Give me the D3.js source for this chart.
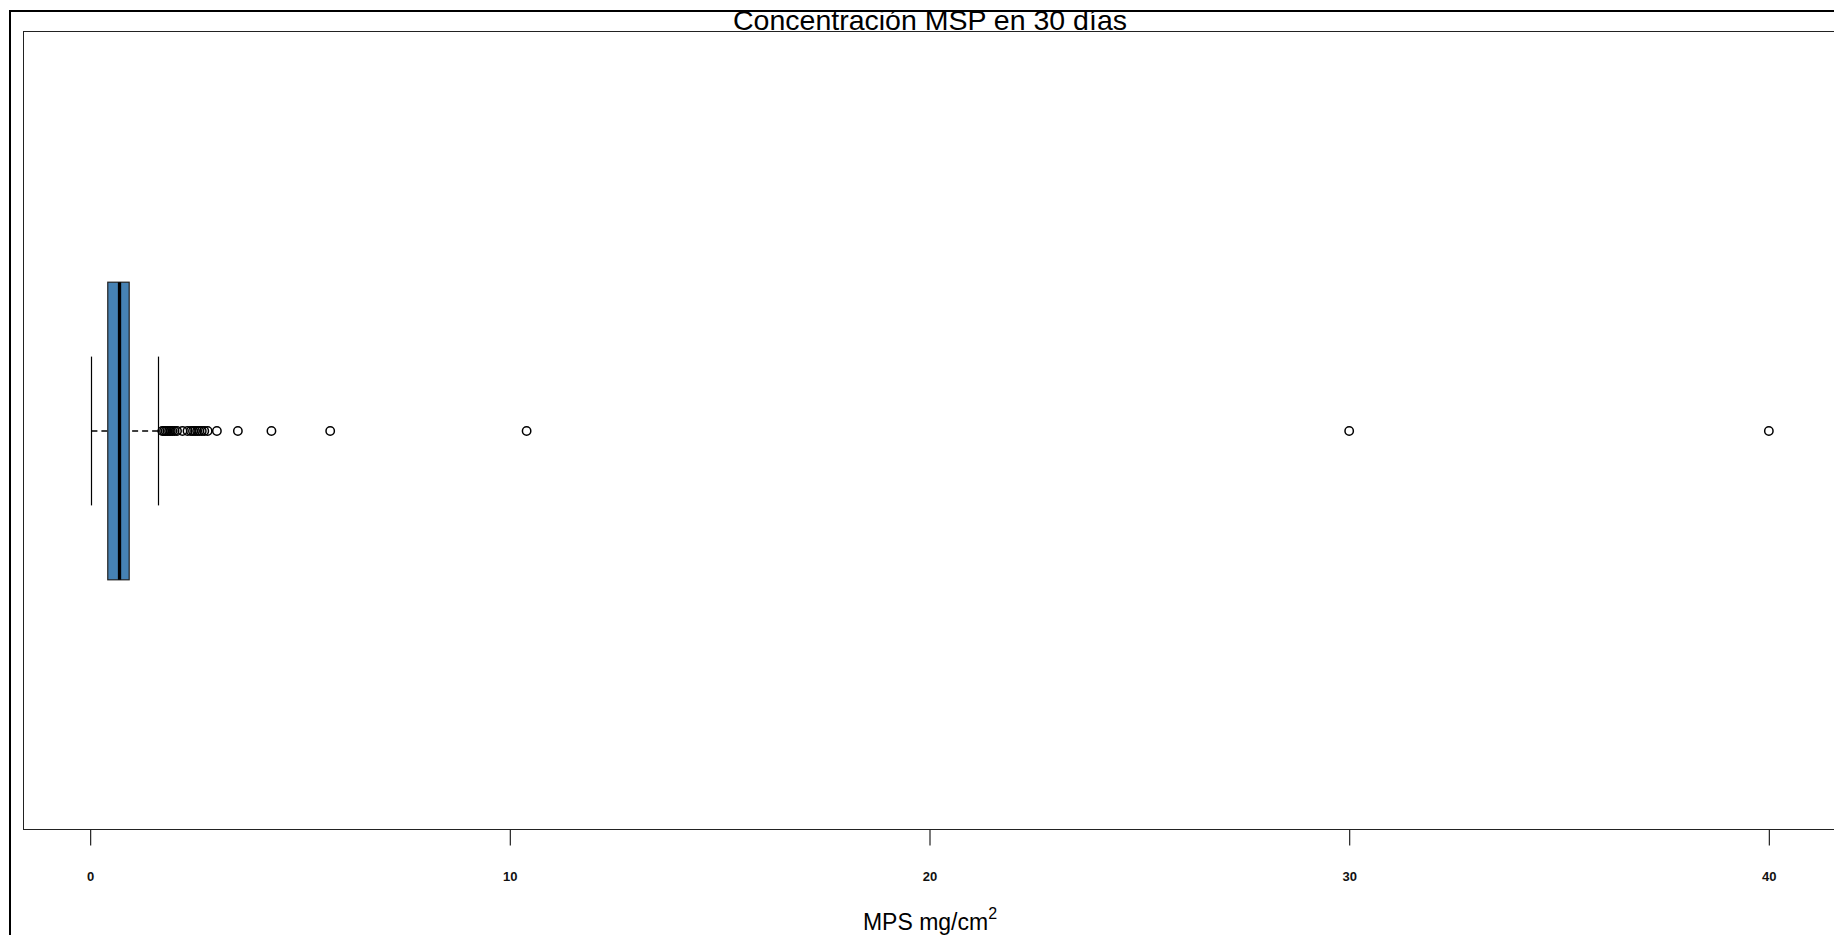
<!DOCTYPE html>
<html>
<head>
<meta charset="utf-8">
<script src="https://cdn.jsdelivr.net/npm/d3@7"></script>
<style>
  html, body { margin: 0; padding: 0; background: #fff; overflow: hidden; }
  svg { display: block; font-family: "Liberation Sans", Arial, sans-serif; }
</style>
</head>
<body>
<svg id="chart" width="1834" height="935"></svg>
<script>
// boxplot of MSP concentration, horizontal
const categories = ['MSP 30 días'];
const boxStats = [{ min: 0.03, q1: 0.42, median: 0.70, q3: 0.93, max: 1.62 }];
const outliers = [
  1.72, 1.76, 1.80, 1.84, 1.88, 1.92, 1.96, 2.01, 2.07,
  2.20, 2.32,
  2.40, 2.45, 2.50, 2.55, 2.60, 2.66, 2.72, 2.80,
  3.02, 3.52, 4.32, 5.72, 10.4, 30.0, 40.0
];
const xTicks = [0, 10, 20, 30, 40];
const title = 'Concentración MSP en 30 días';

const svg = d3.select('#chart');
const margin = { top: 31, left: 23, bottom: 829 };

const x = d3.scaleLinear()
  .domain([-1.6, 41.6])
  .range([margin.left, 1836]);

const y = d3.scaleBand()
  .domain(categories)
  .range([margin.top, margin.bottom + 2]);

// outer frame
svg.append('rect')
  .attr('x', 10).attr('y', 11)
  .attr('width', 1900).attr('height', 1000)
  .attr('fill', 'none')
  .attr('stroke', '#000')
  .attr('stroke-width', 2);

// plot box
svg.append('rect')
  .attr('x', margin.left + 0.5).attr('y', margin.top + 0.5)
  .attr('width', x.range()[1] - margin.left)
  .attr('height', margin.bottom - margin.top)
  .attr('fill', 'none')
  .attr('stroke', '#222')
  .attr('stroke-width', 1);

const g = svg.append('g');

boxStats.forEach((d, i) => {
  const cy = y(categories[i]) + y.bandwidth() / 2;
  const boxH = y.bandwidth() * 0.372;
  const capH = boxH / 2;

  // whiskers
  g.append('line')
    .attr('x1', x(d.min)).attr('x2', x(d.q1))
    .attr('y1', cy).attr('y2', cy)
    .attr('stroke', '#000').attr('stroke-width', 1.3).attr('stroke-dasharray', '6,4');
  g.append('line')
    .attr('x1', x(d.max)).attr('x2', x(d.q3))
    .attr('y1', cy).attr('y2', cy)
    .attr('stroke', '#000').attr('stroke-width', 1.3).attr('stroke-dasharray', '6,4');

  [d.min, d.max].forEach(v => {
    g.append('line')
      .attr('x1', Math.round(x(v)) + 0.5).attr('x2', Math.round(x(v)) + 0.5)
      .attr('y1', cy - capH / 2).attr('y2', cy + capH / 2)
      .attr('stroke', '#000').attr('stroke-width', 1.2);
  });

  // box
  g.append('rect')
    .attr('x', x(d.q1)).attr('y', cy - boxH / 2)
    .attr('width', x(d.q3) - x(d.q1)).attr('height', boxH)
    .attr('fill', '#4682b4')
    .attr('stroke', '#222')
    .attr('stroke-width', 1.2);

  // median
  g.append('line')
    .attr('x1', x(d.median)).attr('x2', x(d.median))
    .attr('y1', cy - boxH / 2).attr('y2', cy + boxH / 2)
    .attr('stroke', '#000').attr('stroke-width', 3.3);

  g.selectAll('.out')
    .data(outliers)
    .enter().append('circle')
    .attr('class', 'out')
    .attr('cx', v => x(v))
    .attr('cy', cy)
    .attr('r', 4.2)
    .attr('fill', 'none')
    .attr('stroke', '#000')
    .attr('stroke-width', 1.5);
});

// x axis
const axis = svg.append('g')
  .attr('transform', `translate(0,${margin.bottom + 0.5})`)
  .call(d3.axisBottom(x).tickValues(xTicks).tickSize(16).tickPadding(26));
axis.select('.domain').remove();
axis.selectAll('.tick line').attr('stroke', '#222').attr('stroke-width', 1.2);
axis.selectAll('.tick text')
  .attr('fill', '#111')
  .style('font-family', '"Liberation Sans", Arial, sans-serif')
  .style('font-size', '13px')
  .style('font-weight', 'bold');

// title
svg.append('text')
  .attr('x', 930).attr('y', 30)
  .attr('text-anchor', 'middle')
  .style('font-size', '28.5px')
  .attr('fill', '#000')
  .text(title);

// axis label
const lab = svg.append('text')
  .attr('x', 930).attr('y', 930)
  .attr('text-anchor', 'middle')
  .style('font-size', '23px')
  .attr('fill', '#000');
lab.append('tspan').text('MPS mg/cm');
lab.append('tspan').attr('dy', -11).style('font-size', '16px').text('2');
</script>
</body>
</html>
